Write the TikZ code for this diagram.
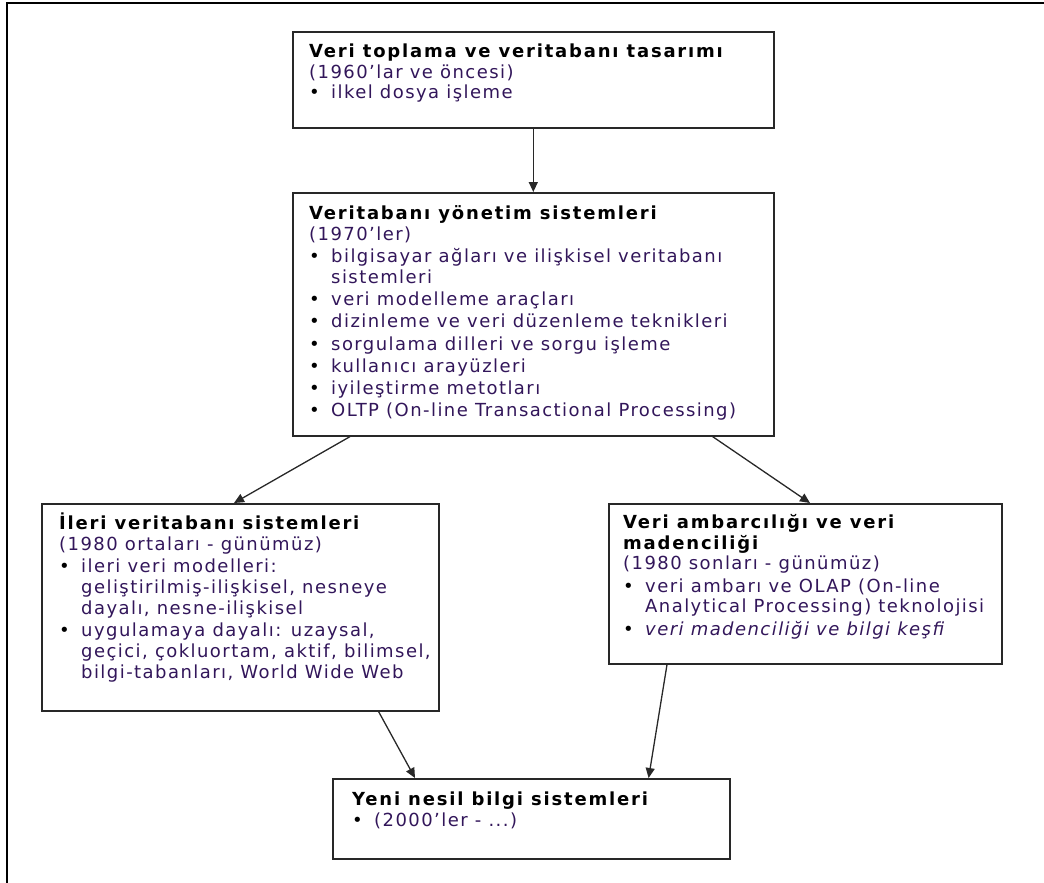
\documentclass[tikz,border=0pt]{standalone}
\usepackage{fontspec}
\setmainfont{DejaVu Sans}[LetterSpace=8, BoldFeatures={LetterSpace=10}]
\usetikzlibrary{arrows.meta}

\definecolor{bodyink}{RGB}{50,22,90}
\definecolor{frameink}{RGB}{40,40,40}

% bullet with hanging indent, and the matching indent for wrapped lines
\newcommand{\bul}{\makebox[22pt][l]{\color{black}\textbullet}}
\newcommand{\ind}{\hspace*{22pt}}
\newcommand{\hd}[1]{{\bfseries\color{black}#1}}
\newcommand{\firstline}{\rule{0pt}{16pt}}

\tikzset{
  box/.style={draw=frameink, line width=1.6pt, rectangle, inner sep=0pt, anchor=north west},
  txt/.style={anchor=north west, inner sep=0pt, align=left, text=bodyink,
              font=\fontsize{18}{20.8}\selectfont},
  arr/.style={draw=frameink, line width=1.3pt, -{Triangle[length=10pt,width=9pt]}},
}

\begin{document}
\begin{tikzpicture}[x=1pt,y=-1pt]
\useasboundingbox (0,0) rectangle (1044,883);

% page frame (left and top edges)
\draw[line width=2.6pt, black] (7,883) -- (7,3) -- (1044,3);

% boxes
\node[box, minimum width=481pt, minimum height=96pt]  (b1) at (292,31)  {};
\node[box, minimum width=481pt, minimum height=243pt] (b2) at (292,192) {};
\node[box, minimum width=397pt, minimum height=207pt] (b3) at (41,503)  {};
\node[box, minimum width=393pt, minimum height=160pt] (b4) at (608,503) {};
\node[box, minimum width=397pt, minimum height=80pt]  (b5) at (332,778) {};

% texts
\node[txt] (t1) at (309,41) {\firstline\hd{Veri toplama ve veritabanı tasarımı}\\
(1960’lar ve öncesi)\\
\bul ilkel dosya işleme};

\node[txt] (t2) at (309,203) {\firstline\hd{Veritabanı yönetim sistemleri}\\
(1970’ler)\\[1.5pt]
\bul bilgisayar ağları ve ilişkisel veritabanı\\
\ind sistemleri\\[1.5pt]
\bul veri modelleme araçları\\[1.5pt]
\bul dizinleme ve veri düzenleme teknikleri\\[1.5pt]
\bul sorgulama dilleri ve sorgu işleme\\[1.5pt]
\bul kullanıcı arayüzleri\\[1.5pt]
\bul iyileştirme metotları\\[1.5pt]
\bul OLTP (On-line Transactional Processing)};

\node[txt] (t3) at (59,513) {\firstline\hd{İleri veritabanı sistemleri}\\
(1980 ortaları - günümüz)\\[1.5pt]
\bul ileri veri modelleri:\\
\ind geliştirilmiş-ilişkisel, nesneye\\
\ind dayalı, nesne-ilişkisel\\[1.5pt]
\bul uygulamaya dayalı: uzaysal,\\
\ind geçici, çokluortam, aktif, bilimsel,\\
\ind bilgi-tabanları, World Wide Web};

\node[txt] (t4) at (623,512) {\firstline\hd{Veri ambarcılığı ve veri}\\
\hd{madenciliği}\\
(1980 sonları - günümüz)\\[1.5pt]
\bul veri ambarı ve OLAP (On-line\\
\ind Analytical Processing) teknolojisi\\[1.5pt]
\bul\textit{veri madenciliği ve bilgi keşfi}};

\node[txt] (t5) at (352,789) {\firstline\hd{Yeni nesil bilgi sistemleri}\\
\bul (2000’ler - ...)};

% connectors
\draw[arr] (b1.south) -- (b2.north -| b1.south);
\draw[arr] ([xshift=58pt]b2.south west) -- ([xshift=193pt]b3.north west);
\draw[arr] ([xshift=-62pt]b2.south east) -- ([xshift=202pt]b4.north west);
\draw[arr] ([xshift=-61pt]b3.south east) -- ([xshift=83pt]b5.north west);
\draw[arr] ([xshift=59pt]b4.south west) -- ([xshift=-82pt]b5.north east);
\end{tikzpicture}
\end{document}
